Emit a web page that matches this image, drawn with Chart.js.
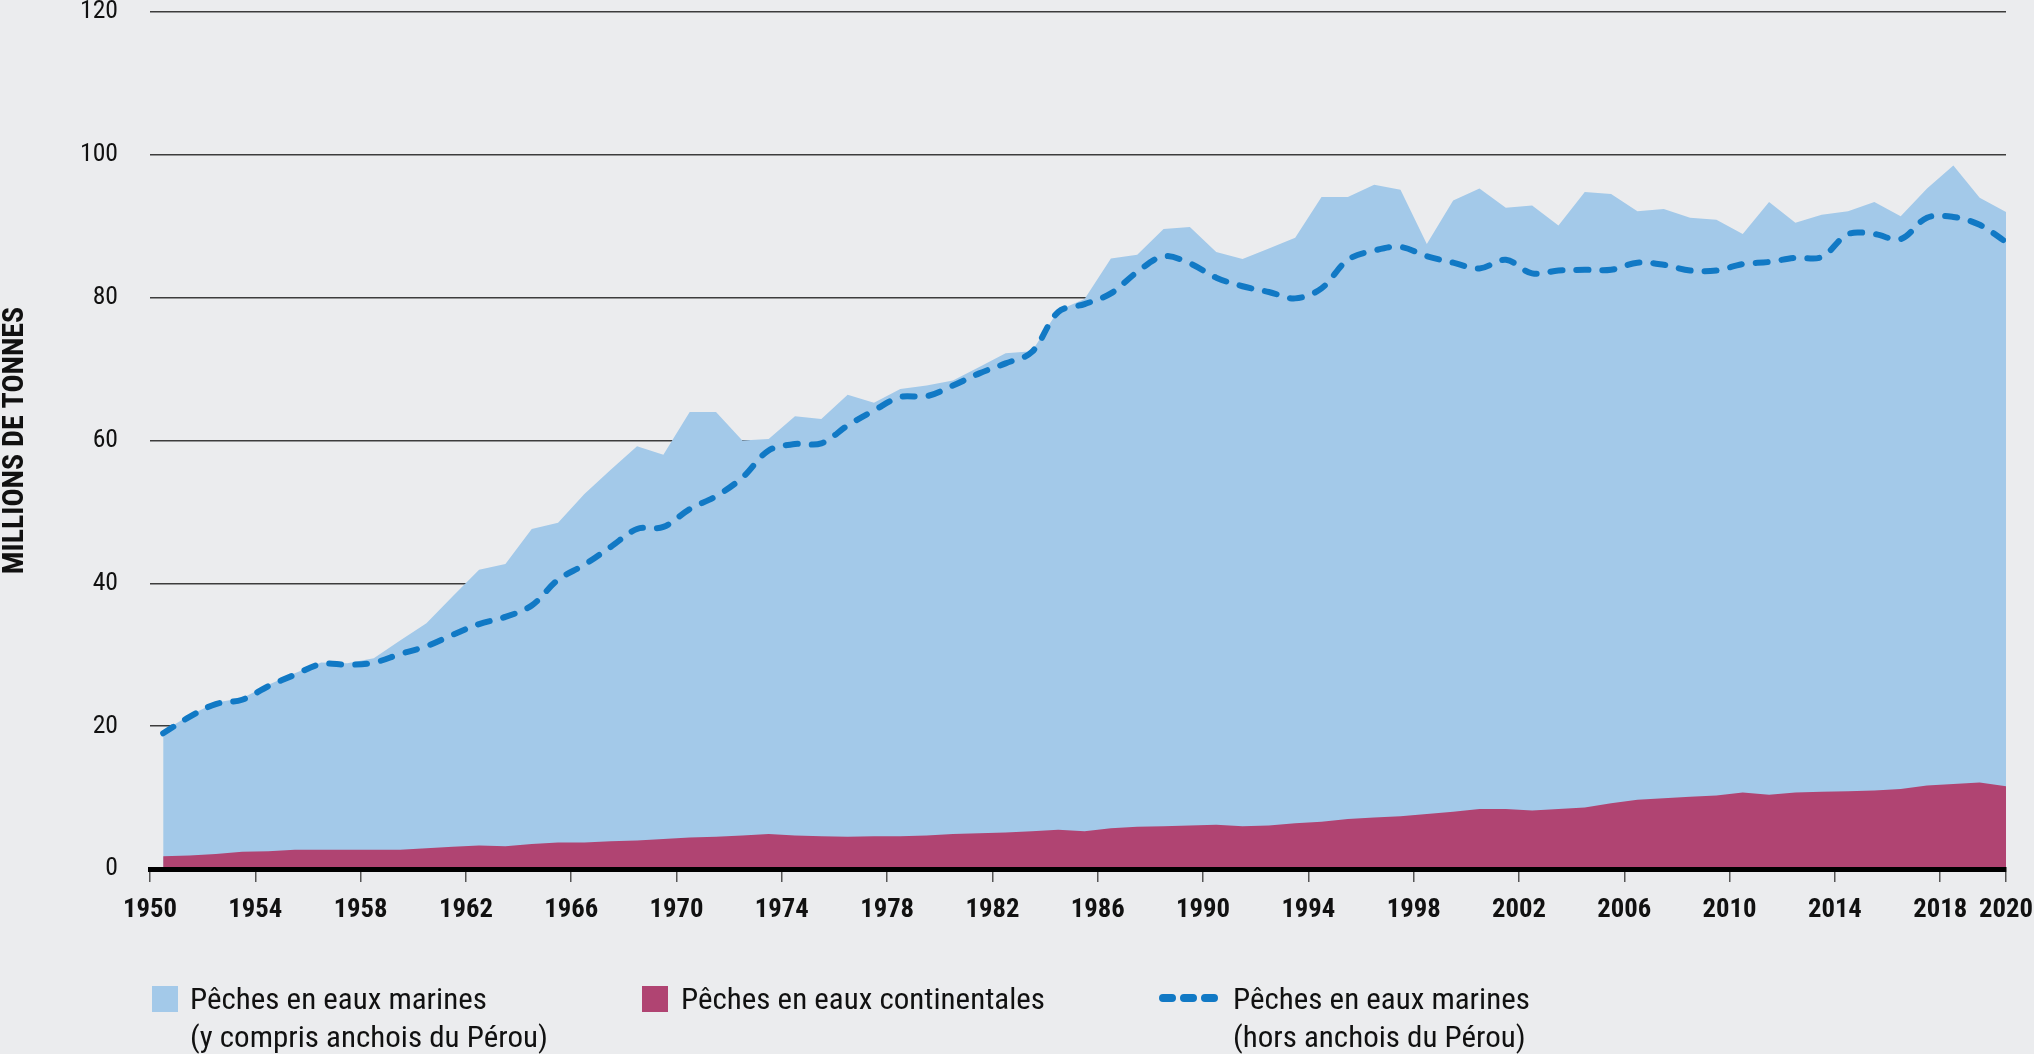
<!DOCTYPE html>
<html lang="fr">
<head>
<meta charset="utf-8">
<title>Production mondiale des pêches de capture</title>
<script src="https://cdn.jsdelivr.net/npm/chart.js@4.4.1/dist/chart.umd.min.js"></script>
<style>
html,body{margin:0;padding:0;background:#EBECEE;}
#wrap{position:relative;width:2034px;height:1054px;overflow:hidden;background:#EBECEE;}
#c{position:absolute;left:0;top:0;}
.legtxt{position:absolute;font-size:30px;line-height:38px;color:#111;white-space:nowrap;transform-origin:0 0;}
.sw{position:absolute;width:26px;height:26px;}
.dash{position:absolute;}
</style>
</head>
<body>
<div id="wrap">
<canvas id="c" width="2034" height="1054"></canvas>
<div id="legend"></div>
</div>
<script>
// ---------- DATA (millions de tonnes) ----------
const years = [1950,1951,1952,1953,1954,1955,1956,1957,1958,1959,
  1960,1961,1962,1963,1964,1965,1966,1967,1968,1969,
  1970,1971,1972,1973,1974,1975,1976,1977,1978,1979,
  1980,1981,1982,1983,1984,1985,1986,1987,1988,1989,
  1990,1991,1992,1993,1994,1995,1996,1997,1998,1999,
  2000,2001,2002,2003,2004,2005,2006,2007,2008,2009,
  2010,2011,2012,2013,2014,2015,2016,2017,2018,2019,
  2020];

// Pêches en eaux continentales
const inland = [1.8,1.9,2.1,2.4,2.5,2.7,2.7,2.7,2.7,2.7,
  2.9,3.1,3.3,3.2,3.5,3.7,3.7,3.9,4.0,4.2,
  4.4,4.5,4.7,4.9,4.7,4.6,4.5,4.6,4.6,4.7,
  4.9,5.0,5.1,5.3,5.5,5.3,5.7,5.9,6.0,6.1,
  6.2,6.0,6.1,6.4,6.6,7.0,7.2,7.4,7.7,8.0,
  8.4,8.4,8.2,8.4,8.6,9.2,9.7,9.9,10.1,10.3,
  10.7,10.4,10.7,10.8,10.9,11.0,11.2,11.7,11.9,12.1,
  11.6];

// Pêches en eaux marines (y compris anchois du Pérou) — empilées sur les eaux continentales
const marine = [17.5,19.6,21.2,21.5,23.3,24.7,26.2,26.1,26.8,29.3,
  31.5,35.1,38.6,39.5,44.1,44.8,48.8,52.0,55.2,53.8,
  59.6,59.5,55.3,55.3,58.7,58.4,61.9,60.7,62.6,63.0,
  63.5,65.3,67.1,67.2,72.7,74.5,79.8,80.1,83.6,83.8,
  80.2,79.4,80.8,82.0,87.5,87.1,88.6,87.7,79.8,85.6,
  86.9,84.2,84.7,81.7,86.2,85.3,82.4,82.5,81.1,80.6,
  78.2,83.0,79.8,80.8,81.2,82.4,80.2,83.6,86.6,81.9,
  80.4];

// Pêches en eaux marines (hors anchois du Pérou) — ligne pointillée
const marineExclAnchovy = [19.0,21.3,23.1,23.7,25.6,27.2,28.7,28.6,28.9,30.1,
  31.2,32.8,34.3,35.3,36.9,40.5,42.6,45.1,47.6,47.9,
  50.4,52.2,54.8,58.6,59.5,59.6,62.1,64.2,66.1,66.2,
  67.7,69.4,70.8,72.4,78.0,79.1,80.6,83.6,85.8,84.8,
  82.8,81.6,80.8,79.9,81.3,85.3,86.6,87.1,85.8,84.9,
  84.1,85.3,83.4,83.8,83.9,83.9,84.9,84.6,83.8,83.8,
  84.7,85.0,85.6,85.7,88.9,88.9,88.2,91.2,91.3,90.2,
  87.8];

const xTickLabels = ['1950','1954','1958','1962','1966','1970','1974','1978','1982','1986',
  '1990','1994','1998','2002','2006','2010','2014','2018','2020'];
const yTickValues = [0,20,40,60,80,100,120];
const yAxisTitle = 'MILLIONS DE TONNES';
const legendLabels = [
  ['Pêches en eaux marines','(y compris anchois du Pérou)'],
  ['Pêches en eaux continentales'],
  ['Pêches en eaux marines','(hors anchois du Pérou)']
];

// ---------- FONT SELECTION (condensed face, sized to the reference widths) ----------
function hasFont(name) {
  const c = document.createElement('canvas').getContext('2d');
  const s = 'abcdefghijklmnopqrstuvwxyzABCDEFGHIJ0123456789';
  for (const base of ['monospace', 'serif']) {
    c.font = '72px ' + base;
    const a = c.measureText(s).width;
    c.font = "72px '" + name + "', " + base;
    if (Math.abs(c.measureText(s).width - a) > 0.5) return true;
  }
  return false;
}
const candidates = ['Roboto Condensed', 'Liberation Sans Narrow', 'Arial Narrow', 'Open Sans Condensed', 'DejaVu Sans Condensed'];
const FAMILY = candidates.find(hasFont) || 'DejaVu Sans';
const FONT = "'" + FAMILY + "', sans-serif";
const mctx = document.createElement('canvas').getContext('2d');
function fitSize(text, weight, targetW, maxSize) {
  mctx.font = weight + ' 100px ' + FONT;
  const w = mctx.measureText(text).width;
  return Math.min(maxSize, Math.round(10 * targetW * 100 / w) / 10);
}
const X_SIZE = fitSize('1950', 'bold', 54, 29);
const Y_SIZE = fitSize('100', 'normal', 38, 28);
const T_SIZE = fitSize(yAxisTitle, 'bold', 272, 30);

// ---------- STYLE ----------
const COL_MARINE = '#A3C9E9';
const COL_INLAND = '#B04472';
const COL_DASH = '#1179C5';
const COL_GRID = '#3c3c3c';
const COL_TEXT = '#111111';

const pts = arr => years.map((y, i) => ({x: y, y: arr[i]}));

new Chart(document.getElementById('c'), {
  type: 'line',
  data: {
    datasets: [
      {
        label: legendLabels[2].join(' '),
        data: pts(marineExclAnchovy),
        stack: 'line',
        borderColor: COL_DASH,
        borderWidth: 6,
        borderDash: [12, 14],
        borderCapStyle: 'round',
        borderJoinStyle: 'round',
        tension: 0.35,
        fill: false,
        pointRadius: 0,
        pointHoverRadius: 0
      },
      {
        label: legendLabels[1].join(' '),
        data: pts(inland),
        stack: 'area',
        backgroundColor: COL_INLAND,
        borderWidth: 0,
        borderColor: 'rgba(0,0,0,0)',
        tension: 0,
        fill: 'origin',
        pointRadius: 0,
        pointHoverRadius: 0
      },
      {
        label: legendLabels[0].join(' '),
        data: pts(marine),
        stack: 'area',
        backgroundColor: COL_MARINE,
        borderWidth: 0,
        borderColor: 'rgba(0,0,0,0)',
        tension: 0,
        fill: 'origin',
        pointRadius: 0,
        pointHoverRadius: 0
      }
    ]
  },
  options: {
    responsive: false,
    devicePixelRatio: 1,
    animation: false,
    events: [],
    layout: { padding: { left: 0, right: 28, top: 12, bottom: 125 } },
    plugins: { legend: { display: false }, tooltip: { enabled: false } },
    scales: {
      x: {
        type: 'linear',
        min: 1949.5,
        max: 2020,
        afterBuildTicks: s => {
          s.ticks = xTickLabels.map(l => ({ value: (+l === 2020) ? 2020 : (+l - 0.5) }));
        },
        afterFit: s => { s.height = 60; s.paddingLeft = 0; s.paddingRight = 0; },
        ticks: {
          autoSkip: false, maxRotation: 0, minRotation: 0,
          color: COL_TEXT, padding: 12 + (29 - X_SIZE) * 0.1,
          font: { family: FONT, size: X_SIZE, weight: 'bold', lineHeight: 1.2 },
          callback: (v, i) => xTickLabels[i]
        },
        grid: { display: true, drawOnChartArea: false, drawTicks: true, tickLength: 13, color: '#555', lineWidth: 1.5, z: 1 },
        border: { display: true, color: '#000', width: 5, z: 1 }
      },
      y: {
        stacked: true,
        min: 0,
        max: 120,
        afterBuildTicks: s => { s.ticks = yTickValues.map(v => ({ value: v })); },
        afterFit: s => { s.width = 150; s.paddingTop = 0; s.paddingBottom = 0; },
        ticks: {
          color: COL_TEXT, padding: 32,
          font: { family: FONT, size: Y_SIZE, lineHeight: 1 },
          callback: v => String(v)
        },
        grid: {
          drawTicks: false,
          lineWidth: 1.5,
          color: ctx => (ctx.tick && ctx.tick.value === 0) ? 'rgba(0,0,0,0)' : COL_GRID
        },
        border: { display: false },
        title: {
          display: true, text: yAxisTitle, color: COL_TEXT, padding: 0,
          font: { family: FONT, size: T_SIZE, weight: 'bold', lineHeight: 30 / T_SIZE }
        }
      }
    }
  }
});

// ---------- LEGEND (HTML) ----------
const legendPos = [ { sw: 152, tx: 190 }, { sw: 642, tx: 681 }, { sw: 1159, tx: 1233 } ];
const legendKinds = ['box', 'box', 'dash'];
const legendColors = [COL_MARINE, COL_INLAND, COL_DASH];
mctx.font = 'normal 30px ' + FONT;
const legScale = Math.min(1.05, 364 / mctx.measureText(legendLabels[1][0]).width);
const leg = document.getElementById('legend');
legendLabels.forEach((lines, i) => {
  const p = legendPos[i];
  if (legendKinds[i] === 'box') {
    const s = document.createElement('div');
    s.className = 'sw';
    s.style.left = p.sw + 'px';
    s.style.top = '986px';
    s.style.background = legendColors[i];
    leg.appendChild(s);
  } else {
    const ns = 'http://www.w3.org/2000/svg';
    const svg = document.createElementNS(ns, 'svg');
    svg.setAttribute('class', 'dash');
    svg.setAttribute('width', '62');
    svg.setAttribute('height', '14');
    svg.style.left = p.sw + 'px';
    svg.style.top = '991px';
    const ln = document.createElementNS(ns, 'line');
    ln.setAttribute('x1', '4'); ln.setAttribute('x2', '58');
    ln.setAttribute('y1', '7'); ln.setAttribute('y2', '7');
    ln.setAttribute('stroke', legendColors[i]);
    ln.setAttribute('stroke-width', '8');
    ln.setAttribute('stroke-linecap', 'round');
    ln.setAttribute('stroke-dasharray', '9 12');
    svg.appendChild(ln);
    leg.appendChild(svg);
  }
  const t = document.createElement('div');
  t.className = 'legtxt';
  t.style.fontFamily = FONT;
  t.style.left = p.tx + 'px';
  t.style.top = '980px';
  t.style.transform = 'scaleX(' + legScale + ')';
  t.innerHTML = lines.map(l => l.replace(/&/g, '&amp;')).join('<br>');
  leg.appendChild(t);
});
</script>
</body>
</html>
